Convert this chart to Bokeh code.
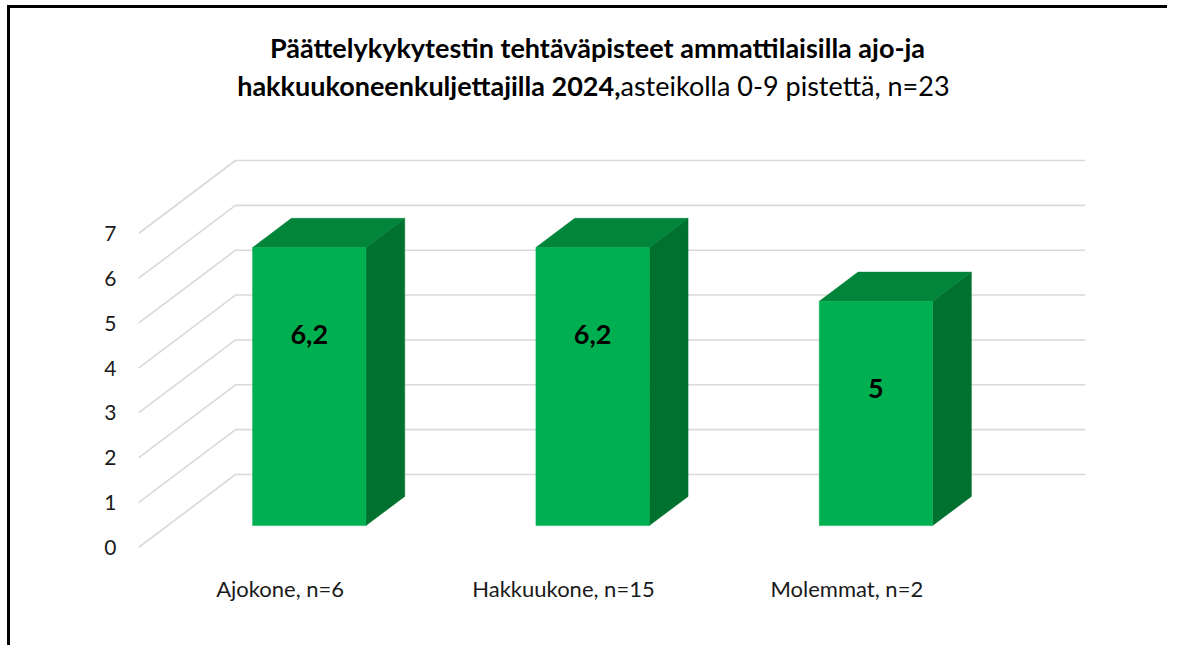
from bokeh.plotting import figure
from bokeh.models import Range1d, FixedTicker, ColumnDataSource
from bokeh.embed import file_html
from bokeh.resources import INLINE
from bokeh.core.properties import value

# ---------------- data ----------------
categories = ["Ajokone, n=6", "Hakkuukone, n=15", "Molemmat, n=2"]
scores = [6.2, 6.2, 5.0]
score_labels = ["6,2", "6,2", "5"]
y_ticks = [0, 1, 2, 3, 4, 5, 6, 7]
title_line1 = "Päättelykykytestin tehtäväpisteet ammattilaisilla ajo-ja"
title_line2_bold = "hakkuukoneenkuljettajilla 2024,"
title_line2_rest = "asteikolla 0-9 pistettä, n=23"

# ---------------- layout / style constants ----------------
CAT_PX = 283.33          # pixels per category
UNIT_PX = 44.857         # pixels per score unit
DEPTH_X = 97 / CAT_PX    # 3D depth offset (x, data units)
DEPTH_Y = 73 / UNIT_PX   # 3D depth offset (y, data units)
BAR_W = 0.4
D_FRONT, D_BACK = 0.3, 0.7
FONT = "Lato"
FRONT_COL = "#00B050"
TOP_COL = "#00853A"
SIDE_COL = "#00712F"
GRID_COL = "#D9D9D9"
n_cat = len(categories)

# page-pixel -> data helpers (front plane: x=138px is 0, y=547px is 0)
def sx(px):
    return (px - 138) / CAT_PX

def sy(py):
    return (547 - py) / UNIT_PX

# canvas origin on the page: (10, 8)
p = figure(width=1160, height=640, output_backend="svg", toolbar_location=None,
           title=None,
           x_range=Range1d(0, n_cat + DEPTH_X),
           y_range=Range1d(sy(552), sy(15)),
           min_border_left=128, min_border_right=85,
           min_border_top=7, min_border_bottom=96)
p.styles = {"position": "relative", "left": "10px", "top": "8px",
            "box-shadow": "-3px -3px 0px 0px black"}
p.outline_line_color = None
p.grid.visible = False
p.background_fill_color = "white"
p.border_fill_color = "white"

# 3D gridlines (left wall + back wall)
gx, gy = [], []
for v in y_ticks:
    gx.append([0, DEPTH_X, n_cat + DEPTH_X])
    gy.append([v, v + DEPTH_Y, v + DEPTH_Y])
p.multi_line(gx, gy, line_color=GRID_COL, line_width=1.6)

# 3D bars
fx, fy, tx, ty, sxs, sys_ = [], [], [], [], [], []
lx, ly = [], []
for i, v in enumerate(scores):
    x0 = i + 0.5 - BAR_W / 2 + D_FRONT * DEPTH_X
    x1 = x0 + BAR_W
    y0 = D_FRONT * DEPTH_Y
    y1 = v + D_FRONT * DEPTH_Y
    ddx = (D_BACK - D_FRONT) * DEPTH_X
    ddy = (D_BACK - D_FRONT) * DEPTH_Y
    fx.append([x0, x1, x1, x0]); fy.append([y0, y0, y1, y1])
    tx.append([x0, x1, x1 + ddx, x0 + ddx]); ty.append([y1, y1, y1 + ddy, y1 + ddy])
    sxs.append([x1, x1 + ddx, x1 + ddx, x1]); sys_.append([y0, y0 + ddy, y1 + ddy, y1])
    lx.append((x0 + x1) / 2)
    ly.append(y1 - 1.95)

p.patches(sxs, sys_, fill_color=SIDE_COL, line_color=SIDE_COL, line_width=0.5)
p.patches(tx, ty, fill_color=TOP_COL, line_color=TOP_COL, line_width=0.5)
p.patches(fx, fy, fill_color=FRONT_COL, line_color=FRONT_COL, line_width=0.5)

src = ColumnDataSource(dict(x=lx, y=ly, t=score_labels))
p.text(x="x", y="y", text="t", source=src, text_align="center", text_baseline="middle",
       text_font=value(FONT), text_font_style="bold", text_font_size="27px",
       text_color="black")

# axes
p.yaxis.ticker = FixedTicker(ticks=y_ticks)
p.yaxis.axis_line_color = None
p.yaxis.major_tick_line_color = None
p.yaxis.minor_tick_line_color = None
p.yaxis.major_tick_in = 0
p.yaxis.major_tick_out = 0
p.yaxis.major_label_standoff = 22
p.yaxis.major_label_text_font = FONT
p.yaxis.major_label_text_font_size = "21px"
p.yaxis.major_label_text_color = "#1a1a1a"

p.xaxis.ticker = FixedTicker(ticks=[i + 0.5 for i in range(n_cat)])
p.xaxis.major_label_overrides = {i + 0.5: c for i, c in enumerate(categories)}
p.xaxis.axis_line_color = None
p.xaxis.major_tick_line_color = None
p.xaxis.minor_tick_line_color = None
p.xaxis.major_tick_in = 0
p.xaxis.major_tick_out = 0
p.xaxis.major_label_standoff = 22
p.xaxis.major_label_text_font = FONT
p.xaxis.major_label_text_font_size = "22px"
p.xaxis.major_label_text_color = "#1a1a1a"

# title (two lines, second line mixed weight) drawn inside the frame
split_x = sx(620)
p.text(x=[sx(597)], y=[sy(47)], text=[title_line1], text_align="center",
       text_baseline="middle", text_font=value(FONT), text_font_style="bold",
       text_font_size="27px", text_color="black")
p.text(x=[split_x], y=[sy(85)], text=[title_line2_bold], text_align="right",
       text_baseline="middle", text_font=value(FONT), text_font_style="bold",
       text_font_size="27px", text_color="black")
p.text(x=[split_x], y=[sy(85)], text=[title_line2_rest], text_align="left",
       text_baseline="middle", text_font=value(FONT), text_font_style="normal",
       text_font_size="27px", text_color="black")

open("out.html", "w").write(file_html(p, INLINE))
